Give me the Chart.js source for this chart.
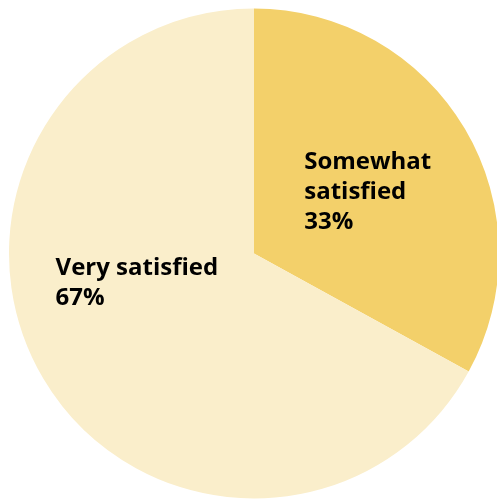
<!DOCTYPE html>
<html>
<head>
<meta charset="utf-8">
<script src="https://cdn.jsdelivr.net/npm/chart.js@4"></script>
<style>
  html, body { margin: 0; padding: 0; background: #fff; overflow: hidden; }
  canvas { display: block; }
</style>
</head>
<body>
<canvas id="satisfaction" width="497" height="499"></canvas>
<script>
const labels = ['Somewhat satisfied', 'Very satisfied'];
const values = [33, 67];
const labelLines = [['Somewhat', 'satisfied'], ['Very satisfied']];
const colors = ['#F3D06A', '#FAEECB'];

// where each slice's text block starts, as a fraction of the radius from the centre
const labelSpots = [[0.205, -0.373], [-0.81, 0.058]];

const sliceText = {
  id: 'sliceText',
  afterDatasetsDraw(chart) {
    const ctx = chart.ctx;
    const arcs = chart.getDatasetMeta(0).data;
    ctx.save();
    ctx.fillStyle = '#000';
    ctx.font = 'bold 24px "Open Sans"';
    ctx.textAlign = 'left';
    ctx.textBaseline = 'middle';
    arcs.forEach((arc, i) => {
      const { x, y, outerRadius } = arc.getProps(['x', 'y', 'outerRadius'], true);
      const lx = x + labelSpots[i][0] * outerRadius;
      let ly = y + labelSpots[i][1] * outerRadius;
      const lines = labelLines[i].concat(values[i] + '%');
      lines.forEach(t => {
        ctx.fillText(t, lx, ly);
        ly += 30;
      });
    });
    ctx.restore();
  }
};

new Chart(document.getElementById('satisfaction'), {
  type: 'pie',
  data: {
    labels: labels,
    datasets: [{
      data: values,
      backgroundColor: colors,
      borderWidth: 0
    }]
  },
  options: {
    responsive: false,
    animation: false,
    radius: 245,
    layout: { padding: { left: 11, top: 8, right: 0, bottom: 0 } },
    plugins: {
      legend: { display: false },
      tooltip: { enabled: false }
    }
  },
  plugins: [sliceText]
});
</script>
</body>
</html>
